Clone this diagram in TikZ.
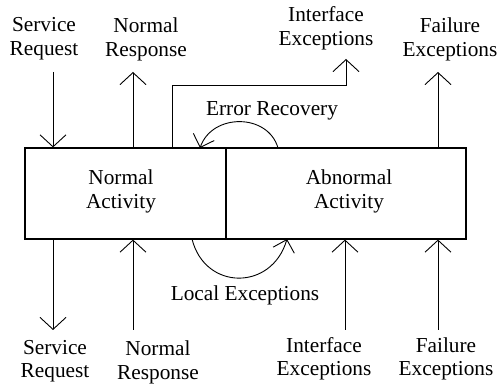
\documentclass[tikz,border=0pt]{standalone}
\usepackage{fontspec}
\setmainfont{Liberation Serif}
\usetikzlibrary{arrows.meta}
\begin{document}
\begin{tikzpicture}[x=1pt,y=-1pt,
  lbl/.style={align=center,inner sep=0pt,anchor=base,font=\fontsize{21.3}{24}\selectfont},
  box/.style={draw,line width=1.2pt,inner sep=0pt},
  flow/.style={line width=0.9pt,-{Straight Barb[length=12pt,width=26pt,line width=0.9pt]}},
  loop/.style={line width=0.9pt,-{Straight Barb[length=11pt,width=22pt,line width=0.9pt]}}]
\useasboundingbox (0,0) rectangle (499,385);

% the two halves of the component
\node[box,minimum width=201pt,minimum height=91pt] (normal) at (125.5,193.5) {};
\node[box,minimum width=240pt,minimum height=91pt] (abnormal) at (346,193.5) {};
\node[lbl] (normaltxt) at (121,209) {Normal\\Activity};
\node[lbl] (abnormaltxt) at (349,209) {Abnormal\\Activity};

% labels above (anchored at the baseline of the last line)
\node[lbl] (srtop) at (44,56) {Service\\Request};
\node[lbl] (nrtop) at (146,57) {Normal\\Response};
\node[lbl] (ietop) at (326,46) {Interface\\Exceptions};
\node[lbl] (fetop) at (450,57) {Failure\\Exceptions};
\node[lbl] (errrec) at (272,116) {Error Recovery};

% labels below
\node[lbl] (srbot) at (55,378) {Service\\Request};
\node[lbl] (nrbot) at (158,379.5) {Normal\\Response};
\node[lbl] (iebot) at (324,376) {Interface\\Exceptions};
\node[lbl] (febot) at (446,376) {Failure\\Exceptions};
\node[lbl] (locexc) at (245,301) {Local Exceptions};

% free ends of the interface arrows
\coordinate (srin) at (53,72);
\coordinate (nrout) at (133,72);
\coordinate (iebend) at (172,85);
\coordinate (ieout) at (346,59);
\coordinate (feout) at (438,72);
\coordinate (srdown) at (53,330);
\coordinate (nrup) at (133,330);
\coordinate (ieup) at (345,330);
\coordinate (feup) at (438,330);

% arrows on the top side
\draw[flow] (srin) -- (srin |- normal.north);
\draw[flow] (nrout |- normal.north) -- (nrout);
\draw[flow] (iebend |- normal.north) -- (iebend) -| (ieout);
\draw[flow] (feout |- abnormal.north) -- (feout);

% arrows on the bottom side
\draw[flow] (srdown |- normal.south) -- (srdown);
\draw[flow] (nrup) -- (nrup |- normal.south);
\draw[flow] (ieup) -- (ieup |- abnormal.south);
\draw[flow] (feup) -- (feup |- abnormal.south);

% recovery and local exception loops
\coordinate (recstart) at (278,148);
\coordinate (recend) at (200,148);
\coordinate (locstart) at (192,239);
\coordinate (locend) at (287,239);
\draw[loop] (recstart) .. controls (268,113) and (212,113) .. (recend);
\draw[loop] (locstart) .. controls (205,291) and (272,291) .. (locend);
\end{tikzpicture}
\end{document}
